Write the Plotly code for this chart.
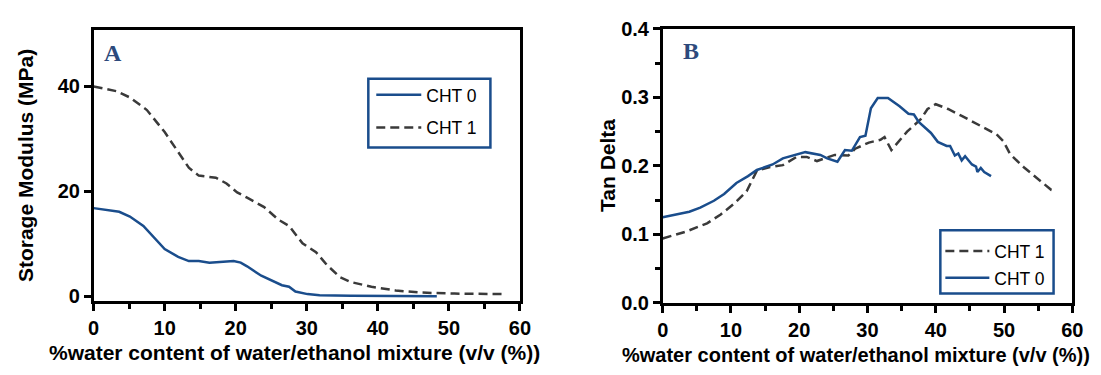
import plotly.graph_objects as go

# Panel A: storage modulus (MPa)
a_cht0_x = [0, 3.6, 5.1, 7, 10, 11.9, 13.4, 14.8, 16.3, 19.7, 20.7, 21.6, 23.6, 26.5, 27.5, 28.4, 30.1, 31.8, 36.2, 41, 48.3]
a_cht0_y = [16.8, 16.1, 15.2, 13.4, 9.0, 7.5, 6.7, 6.7, 6.4, 6.7, 6.4, 5.7, 3.9, 2.1, 1.8, 0.9, 0.4, 0.2, 0.1, 0.05, 0.0]
a_cht1_x = [0, 3.2, 5.1, 7.5, 10, 11.9, 13.4, 14.8, 17.2, 18.7, 20.2, 21.6, 24, 26, 27.5, 29.4, 31.3, 32.8, 34.7, 36.2, 39.1, 42.5, 45.9, 50.8, 57.6]
a_cht1_y = [40, 39.1, 37.9, 35.5, 31.3, 27.5, 24.5, 23, 22.6, 21.5, 19.8, 18.8, 17, 14.6, 13.4, 10.1, 8.4, 6.0, 3.6, 2.7, 1.8, 1.1, 0.7, 0.5, 0.4]

# Panel B: tan delta
b_cht0_x = [0, 3.9, 5.5, 7.5, 9, 10.8, 12.5, 13.8, 16.1, 17.6, 20.9, 23.1, 24.1, 25.6, 26.7, 27.7, 28.9, 29.7, 30.5, 31.5, 33, 34.7, 36, 36.8, 37.5, 38.3, 39.3, 40.3, 41.6, 42.1, 42.8, 43.3, 43.8, 44.3, 45.3, 45.9, 46.1, 46.6, 47.1, 48.1]
b_cht0_y = [0.125, 0.133, 0.139, 0.149, 0.159, 0.175, 0.185, 0.194, 0.202, 0.211, 0.220, 0.216, 0.211, 0.206, 0.223, 0.222, 0.242, 0.244, 0.284, 0.299, 0.299, 0.287, 0.276, 0.275, 0.264, 0.257, 0.248, 0.235, 0.229, 0.229, 0.215, 0.218, 0.208, 0.214, 0.202, 0.199, 0.191, 0.197, 0.191, 0.185]
b_cht1_x = [0, 3.4, 6.5, 8.5, 10.5, 12.3, 13.8, 15.6, 17.6, 19.6, 21.1, 22.6, 25.2, 27.2, 28.2, 30.2, 31.9, 32.5, 33.5, 35.8, 37.8, 38.8, 40, 41.8, 43.8, 46.9, 48.9, 49.9, 50.9, 52.9, 54.9, 56.9, 57.5]
b_cht1_y = [0.094, 0.104, 0.116, 0.129, 0.145, 0.163, 0.193, 0.198, 0.201, 0.213, 0.213, 0.207, 0.216, 0.215, 0.225, 0.234, 0.238, 0.242, 0.223, 0.250, 0.268, 0.283, 0.290, 0.283, 0.273, 0.257, 0.246, 0.236, 0.217, 0.198, 0.182, 0.165, 0.163]

x_ticks = [0, 10, 20, 30, 40, 50, 60]
x_ticklabels = ["0", "10", "20", "30", "40", "50", "60"]
a_y_ticks = [0, 20, 40]
a_y_ticklabels = ["0", "20", "40"]
b_y_ticks = [0, 0.1, 0.2, 0.3, 0.4]
b_y_ticklabels = ["0.0", "0.1", "0.2", "0.3", "0.4"]

x_title = "%water content of water/ethanol mixture (v/v (%))"
BLUE = "#1a4d8c"
GREY = "#3a3a3a"
W, H = 1101, 375
DASH = "9px,5px"
FAM = "Liberation Sans, Arial, sans-serif"

def bold(lst):
    return ["<b>%s</b>" % s for s in lst]

fig = go.Figure()
fig.add_trace(go.Scatter(x=a_cht0_x, y=a_cht0_y, mode="lines", name="CHT 0", line=dict(color=BLUE, width=2.5),
                         xaxis="x", yaxis="y", legend="legend", legendgroup="a0"))
fig.add_trace(go.Scatter(x=a_cht1_x, y=a_cht1_y, mode="lines", name="CHT 1", line=dict(color=GREY, width=2.5, dash=DASH),
                         xaxis="x", yaxis="y", legend="legend", legendgroup="a1"))
fig.add_trace(go.Scatter(x=b_cht1_x, y=b_cht1_y, mode="lines", name="CHT 1", line=dict(color=GREY, width=2.5, dash=DASH),
                         xaxis="x2", yaxis="y2", legend="legend2", legendgroup="b1"))
fig.add_trace(go.Scatter(x=b_cht0_x, y=b_cht0_y, mode="lines", name="CHT 0", line=dict(color=BLUE, width=2.5),
                         xaxis="x2", yaxis="y2", legend="legend2", legendgroup="b0"))

tickfont = dict(family=FAM, size=20, color="black")
common = dict(showline=True, linewidth=2.5, linecolor="black", mirror=True, ticks="outside", ticklen=7,
              tickwidth=2.5, tickcolor="black", showgrid=False, zeroline=False, tickfont=tickfont)

def xax(domain, anchor):
    return dict(domain=domain, anchor=anchor, range=[0, 60], tickmode="array", tickvals=x_ticks,
                ticktext=bold(x_ticklabels),
                minor=dict(dtick=5, ticks="outside", ticklen=5, tickwidth=2.5, tickcolor="black"), **common)

legfont = dict(family=FAM, size=17.5, color="black")
fig.update_layout(
    width=W, height=H, margin=dict(l=0, r=0, t=0, b=0),
    paper_bgcolor="white", plot_bgcolor="white",
    xaxis=xax([89 / W, 522 / W], "y"),
    yaxis=dict(domain=[1 - 308 / H, 1 - 20 / H], anchor="x", range=[-0.9, 50.8], tickmode="array",
               tickvals=a_y_ticks, ticktext=bold(a_y_ticklabels), **common),
    xaxis2=xax([667 / W, 1083 / W], "y2"),
    yaxis2=dict(domain=[1 - 310 / H, 1 - 19 / H], anchor="x2", range=[0, 0.4], tickmode="array",
                tickvals=b_y_ticks, ticktext=bold(b_y_ticklabels),
                minor=dict(dtick=0.05, ticks="outside", ticklen=5, tickwidth=2.5, tickcolor="black"),
                **common),
    legend=dict(x=371 / W, y=1 - 70 / H, xanchor="left", yanchor="top", borderwidth=0,
                bgcolor="rgba(0,0,0,0)", font=legfont, tracegroupgap=7, traceorder="grouped", itemwidth=45),
    legend2=dict(x=949 / W, y=1 - 236 / H, xanchor="left", yanchor="top", borderwidth=0,
                 bgcolor="rgba(0,0,0,0)", font=legfont, tracegroupgap=1, traceorder="grouped", itemwidth=44),
    showlegend=True,
)

# legend frames
fig.add_shape(type="rect", xref="paper", yref="paper", x0=368 / W, x1=492 / W, y0=1 - 145 / H, y1=1 - 72 / H,
              line=dict(color=BLUE, width=2.5), fillcolor="rgba(0,0,0,0)", layer="above")
fig.add_shape(type="rect", xref="paper", yref="paper", x0=949 / W, x1=1064 / W, y0=1 - 300 / H, y1=1 - 233 / H,
              line=dict(color=BLUE, width=2.5), fillcolor="rgba(0,0,0,0)", layer="above")

titlefont = dict(family=FAM, size=21, color="black")
titlefont_b = dict(family=FAM, size=20, color="black")
ytitlefont = dict(family=FAM, size=21, color="black")
annos = [
    dict(text="<b>%s</b>" % x_title, x=293 / W, y=1 - 363 / H, xanchor="center", yanchor="middle", font=titlefont),
    dict(text="<b>%s</b>" % x_title, x=624 / W, y=1 - 365 / H, xanchor="left", yanchor="middle", font=titlefont_b),
    dict(text="<b>Storage Modulus (MPa)</b>", x=20 / W, y=1 - 164 / H, xanchor="center", yanchor="middle",
         textangle=-90, font=ytitlefont),
    dict(text="<b>Tan Delta</b>", x=611 / W, y=1 - 164 / H, xanchor="center", yanchor="middle", textangle=-90,
         font=ytitlefont),
    dict(text="<b>A</b>", x=97 / W, y=1 - 45 / H, xanchor="left", yanchor="middle",
         font=dict(family="Liberation Serif, Times New Roman, serif", size=24, color="#2d4a7c")),
    dict(text="<b>B</b>", x=686 / W, y=1 - 43 / H, xanchor="left", yanchor="middle",
         font=dict(family="Liberation Serif, Times New Roman, serif", size=24, color="#2d4a7c")),
]
for a in annos:
    a.update(xref="paper", yref="paper", showarrow=False)
fig.update_layout(annotations=annos)

fig.write_html("out.html")
